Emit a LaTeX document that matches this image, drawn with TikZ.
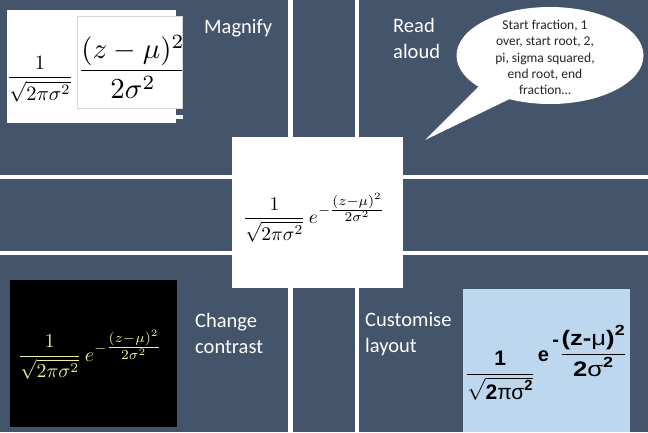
\documentclass[tikz,border=0pt]{standalone}
\usepackage[no-math]{fontspec}
\setmainfont{Carlito}
\newfontfamily\arialfont{Liberation Sans}
\usepackage{amsmath}
\usepackage{graphicx}
\definecolor{panel}{RGB}{68,84,106}
\definecolor{mathyellow}{RGB}{240,240,150}
\definecolor{paleblue}{RGB}{189,215,238}
\definecolor{boxgray}{RGB}{215,215,215}
\newcommand{\gaussformula}{\displaystyle\frac{1}{\sqrt{2\pi\sigma^2}}\,e^{-\genfrac{}{}{}{1}{(z-\mu)^2}{2\sigma^2}}}
\begin{document}
\begin{tikzpicture}[x=1pt,y=-1pt,
  tag/.style={text=white, font=\fontsize{20.5}{26}\selectfont, align=left, anchor=base west, inner sep=0pt},
  panelfill/.style={fill=panel},
  formula/.style={inner sep=0pt, anchor=center}]
\useasboundingbox (0,0) rectangle (648,432);
\fill[white] (0,0) rectangle (648,432);
% grid panels
\fill[panelfill] (0,0) rectangle (288,175);
\fill[panelfill] (293,0) rectangle (355,175);
\fill[panelfill] (359,0) rectangle (648,175);
\fill[panelfill] (0,179) rectangle (288,251);
\fill[panelfill] (359,179) rectangle (648,251);
\fill[panelfill] (0,255) rectangle (288,432);
\fill[panelfill] (293,255) rectangle (355,432);
\fill[panelfill] (359,255) rectangle (648,432);
% centre box
\fill[white] (232,137) rectangle (403,288);
\node[formula] (centre) at (314,217.5) {\resizebox{142pt}{!}{$\gaussformula$}};

% Magnify panel
\fill[white] (7,10) rectangle (176,123);
\fill[white] (176,115) rectangle (183,119);
\draw[boxgray, fill=white] (77,16) rectangle (182,108);
\node[formula] (smallfrac) at (40,79) {\resizebox{66pt}{!}{$\displaystyle\frac{1}{\sqrt{2\pi\sigma^2}}$}};
\begin{scope}
\clip (77,16) rectangle (182,108);
\node[formula] (bigfrac) at (133,66.5) {\resizebox{110pt}{!}{$\displaystyle\frac{(z-\mu)^2}{2\sigma^2}$}};
\end{scope}
\node[tag] (magnify) at (204,33) {Magnify};

% Read aloud panel
\node[tag] (read) at (393,58) {Read\\aloud};
\fill[white] (550,55.5) ellipse [x radius=93.5pt, y radius=48.5pt];
\fill[white] (485,80) -- (425,140) -- (520,94) -- cycle;
\node[align=center, font=\fontsize{13.5}{16.4}\selectfont, text=black!85, inner sep=0pt] (bubbletext) at (545,57.5)
  {Start fraction, 1\\over, start root, 2,\\pi, sigma squared,\\end root, end\\fraction…};

% Change contrast panel
\fill[black] (10,280) rectangle (177,427);
\node[formula, text=mathyellow] (contrastformula) at (90,355) {\resizebox{144pt}{!}{$\gaussformula$}};
\node[tag] (contrast) at (195,353) {Change\\contrast};

% Customise layout panel
\fill[paleblue] (463,289) rectangle (630,432);
\node[inner sep=0pt, anchor=base west, font=\fontsize{20}{24}\selectfont\arialfont\bfseries] (layoutformula) at (466,380)
  {$\displaystyle\scalebox{1.05}{$\displaystyle\frac{\text{1}}{\sqrt{\text{2{\mdseries πσ}}^{\text{2}}}}$}\,\raisebox{19pt}{e}\,\raisebox{34pt}{-}\hspace{1pt}\raisebox{20pt}{\scalebox{1.28}[1.05]{$\displaystyle\frac{\text{(z-{\mdseries μ})}^{\text{2}}}{\text{2{\mdseries σ}}^{\text{2}}}$}}$};
\node[tag] (custom) at (365,352) {Customise\\layout};
\end{tikzpicture}
\end{document}
